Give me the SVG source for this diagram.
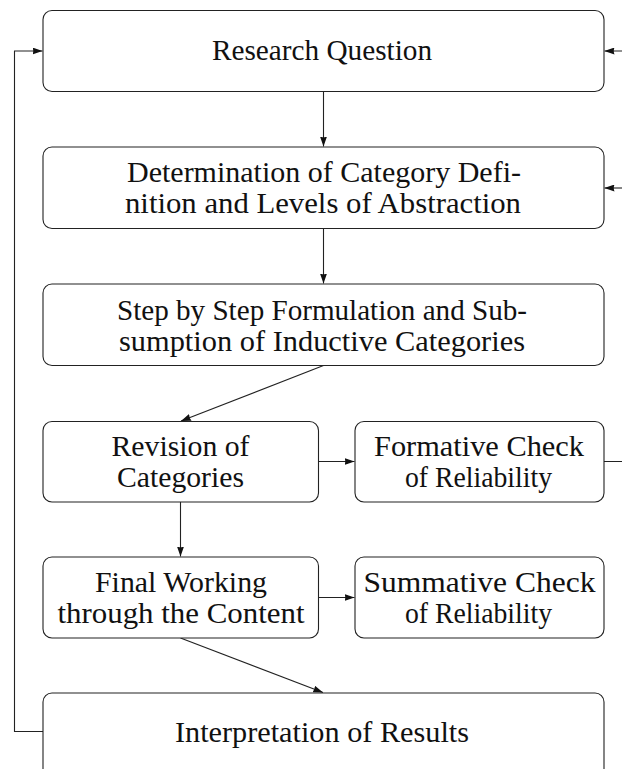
<svg xmlns="http://www.w3.org/2000/svg" width="622" height="769" viewBox="0 0 622 769">
  <defs>
    <style>
      .box { fill: #ffffff; stroke: #222222; stroke-width: 1.1; }
      .lbl { font-family: "Liberation Serif", "Times New Roman", serif; font-size: 29.5px; fill: #111111; text-anchor: middle; }
      .edge { fill: none; stroke: #222222; stroke-width: 1.1; }
    </style>
    <marker id="arrow" viewBox="0 0 10 7" refX="10" refY="3.5" markerWidth="10" markerHeight="7" markerUnits="userSpaceOnUse" orient="auto">
      <path d="M0,0 L10,3.5 L0,7 Q1.5,3.5 0,0 Z" fill="#111111"/>
    </marker>
  </defs>

  <rect width="622" height="769" fill="#ffffff"/>

  <!-- connectors -->
  <g id="connectors">
    <path class="edge" d="M323.5,91.5 L323.5,146.5" marker-end="url(#arrow)"/>
    <path class="edge" d="M323.5,228.5 L323.5,283.5" marker-end="url(#arrow)"/>
    <path class="edge" d="M323.5,365.5 L181,421" marker-end="url(#arrow)"/>
    <path class="edge" d="M318.5,461.5 L354.5,461.5" marker-end="url(#arrow)"/>
    <path class="edge" d="M180.5,502 L180.5,556.5" marker-end="url(#arrow)"/>
    <path class="edge" d="M318.5,597.5 L354.5,597.5" marker-end="url(#arrow)"/>
    <path class="edge" d="M180.5,638 L323,692.5" marker-end="url(#arrow)"/>
    <!-- feedback loop on the left: results back to the question -->
    <path class="edge" d="M43,731.5 L14.5,731.5 L14.5,51 L42.5,51" marker-end="url(#arrow)"/>
    <!-- reliability check feeds back on the right -->
    <path class="edge" d="M604,461.5 L632,461.5 L632,51 L604.5,51" marker-end="url(#arrow)"/>
    <path class="edge" d="M632,188 L604.5,188" marker-end="url(#arrow)"/>
  </g>

  <g id="research-question">
    <rect class="box" x="43" y="10.5" width="561" height="81" rx="9"/>
    <text class="lbl" x="322" y="60" textLength="220" lengthAdjust="spacingAndGlyphs">Research Question</text>
  </g>

  <g id="category-definition">
    <rect class="box" x="43" y="147" width="561" height="81.5" rx="9"/>
    <text class="lbl" x="324" y="182" textLength="394" lengthAdjust="spacingAndGlyphs">Determination of Category Defi-</text>
    <text class="lbl" x="323" y="213" textLength="396" lengthAdjust="spacingAndGlyphs">nition and Levels of Abstraction</text>
  </g>

  <g id="inductive-categories">
    <rect class="box" x="43" y="284" width="561" height="81.5" rx="9"/>
    <text class="lbl" x="322" y="319.5" textLength="410" lengthAdjust="spacingAndGlyphs">Step by Step Formulation and Sub-</text>
    <text class="lbl" x="322" y="350.5" textLength="406" lengthAdjust="spacingAndGlyphs">sumption of Inductive Categories</text>
  </g>

  <g id="revision">
    <rect class="box" x="43" y="421.5" width="275.5" height="80.5" rx="9"/>
    <text class="lbl" x="180.5" y="456" textLength="138" lengthAdjust="spacingAndGlyphs">Revision of</text>
    <text class="lbl" x="180.5" y="487" textLength="127" lengthAdjust="spacingAndGlyphs">Categories</text>
  </g>

  <g id="formative-check">
    <rect class="box" x="355" y="421.5" width="249" height="80.5" rx="9"/>
    <text class="lbl" x="479" y="456" textLength="210" lengthAdjust="spacingAndGlyphs">Formative Check</text>
    <text class="lbl" x="478.5" y="487" textLength="147" lengthAdjust="spacingAndGlyphs">of Reliability</text>
  </g>

  <g id="final-working">
    <rect class="box" x="43" y="557" width="275.5" height="81" rx="9"/>
    <text class="lbl" x="181" y="592" textLength="172" lengthAdjust="spacingAndGlyphs">Final Working</text>
    <text class="lbl" x="181" y="623" textLength="247" lengthAdjust="spacingAndGlyphs">through the Content</text>
  </g>

  <g id="summative-check">
    <rect class="box" x="355" y="557" width="249" height="81" rx="9"/>
    <text class="lbl" x="479.5" y="592" textLength="232" lengthAdjust="spacingAndGlyphs">Summative Check</text>
    <text class="lbl" x="478.5" y="623" textLength="147" lengthAdjust="spacingAndGlyphs">of Reliability</text>
  </g>

  <g id="interpretation">
    <rect class="box" x="43" y="693" width="561" height="90" rx="9"/>
    <text class="lbl" x="322" y="742" textLength="294" lengthAdjust="spacingAndGlyphs">Interpretation of Results</text>
  </g>
</svg>
